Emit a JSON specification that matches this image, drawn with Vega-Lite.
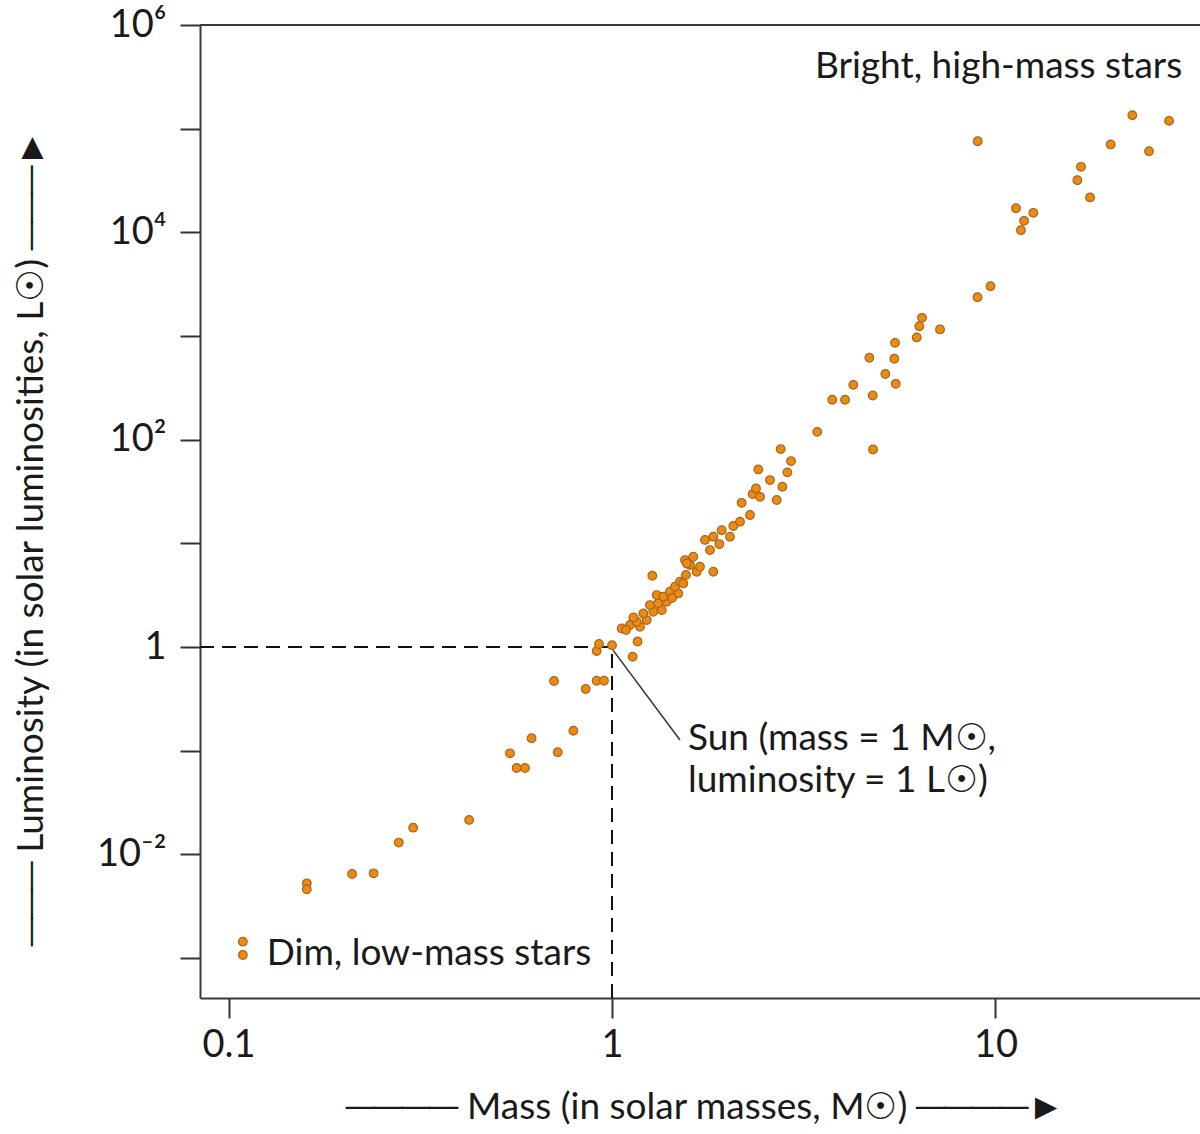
{
  "$schema": "https://vega.github.io/schema/vega-lite/v6.json",
  "width": 1000,
  "height": 973,
  "autosize": "none",
  "padding": {"left": 200, "top": 25, "right": 0, "bottom": 136},
  "background": "white",
  "config": {"view": {"stroke": null}, "font": "Lato"},
  "datasets": {
    "stars": [
      {"mass": 0.109, "lum": 0.00144}, {"mass": 0.109, "lum": 0.00107},
      {"mass": 0.160, "lum": 0.00526}, {"mass": 0.160, "lum": 0.00461},
      {"mass": 0.210, "lum": 0.00647}, {"mass": 0.239, "lum": 0.00657},
      {"mass": 0.278, "lum": 0.0130}, {"mass": 0.303, "lum": 0.0181},
      {"mass": 0.424, "lum": 0.0215}, {"mass": 0.542, "lum": 0.0944},
      {"mass": 0.564, "lum": 0.0681}, {"mass": 0.593, "lum": 0.0681},
      {"mass": 0.617, "lum": 0.132}, {"mass": 0.722, "lum": 0.0966},
      {"mass": 0.793, "lum": 0.156}, {"mass": 0.706, "lum": 0.470},
      {"mass": 0.854, "lum": 0.394}, {"mass": 0.912, "lum": 0.473},
      {"mass": 0.953, "lum": 0.473}, {"mass": 0.912, "lum": 0.915},
      {"mass": 0.925, "lum": 1.07}, {"mass": 1.0, "lum": 1.04},
      {"mass": 1.132, "lum": 0.806}, {"mass": 1.166, "lum": 1.13},
      {"mass": 1.060, "lum": 1.51}, {"mass": 1.114, "lum": 1.63},
      {"mass": 1.183, "lum": 1.57}, {"mass": 1.160, "lum": 1.75},
      {"mass": 1.232, "lum": 1.82}, {"mass": 1.137, "lum": 1.93},
      {"mass": 1.207, "lum": 2.11}, {"mass": 1.281, "lum": 2.19},
      {"mass": 1.348, "lum": 2.27}, {"mass": 1.256, "lum": 2.54},
      {"mass": 1.320, "lum": 2.64}, {"mass": 1.389, "lum": 2.73},
      {"mass": 1.308, "lum": 3.17}, {"mass": 1.361, "lum": 3.06},
      {"mass": 1.489, "lum": 3.29}, {"mass": 1.416, "lum": 3.42},
      {"mass": 1.460, "lum": 3.82}, {"mass": 1.504, "lum": 4.26},
      {"mass": 1.274, "lum": 4.87}, {"mass": 1.534, "lum": 4.11},
      {"mass": 1.597, "lum": 6.18}, {"mass": 1.663, "lum": 5.33},
      {"mass": 1.550, "lum": 6.90}, {"mass": 1.629, "lum": 7.43},
      {"mass": 1.696, "lum": 5.95}, {"mass": 1.837, "lum": 5.33},
      {"mass": 1.801, "lum": 8.62}, {"mass": 1.748, "lum": 10.8},
      {"mass": 1.905, "lum": 9.84}, {"mass": 1.837, "lum": 11.6},
      {"mass": 2.031, "lum": 11.6}, {"mass": 1.932, "lum": 13.4},
      {"mass": 2.072, "lum": 14.7}, {"mass": 2.157, "lum": 16.2},
      {"mass": 2.290, "lum": 18.8}, {"mass": 2.178, "lum": 24.6},
      {"mass": 2.327, "lum": 29.9}, {"mass": 2.432, "lum": 28.1},
      {"mass": 2.374, "lum": 33.9}, {"mass": 2.689, "lum": 26.2},
      {"mass": 2.781, "lum": 35.2}, {"mass": 2.582, "lum": 40.8},
      {"mass": 2.407, "lum": 51.7}, {"mass": 2.866, "lum": 48.4},
      {"mass": 2.930, "lum": 62.2}, {"mass": 2.754, "lum": 81.2},
      {"mass": 3.430, "lum": 119}, {"mass": 3.753, "lum": 243},
      {"mass": 4.052, "lum": 243}, {"mass": 4.258, "lum": 338},
      {"mass": 4.785, "lum": 267}, {"mass": 4.794, "lum": 80.6},
      {"mass": 4.688, "lum": 617}, {"mass": 5.161, "lum": 430},
      {"mass": 5.447, "lum": 603}, {"mass": 5.494, "lum": 346},
      {"mass": 5.470, "lum": 859}, {"mass": 6.232, "lum": 970},
      {"mass": 6.330, "lum": 1245}, {"mass": 6.433, "lum": 1497},
      {"mass": 7.167, "lum": 1158}, {"mass": 8.977, "lum": 2371},
      {"mass": 9.705, "lum": 3028}, {"mass": 11.65, "lum": 10500},
      {"mass": 11.87, "lum": 12910}, {"mass": 11.31, "lum": 17110},
      {"mass": 12.55, "lum": 15420}, {"mass": 8.986, "lum": 75700},
      {"mass": 16.35, "lum": 31860}, {"mass": 16.71, "lum": 42850},
      {"mass": 17.64, "lum": 21720}, {"mass": 19.97, "lum": 70470},
      {"mass": 22.74, "lum": 134900}, {"mass": 25.14, "lum": 60670},
      {"mass": 28.35, "lum": 118900}, {"mass": 1.566, "lum": 6.41},
      {"mass": 1.088, "lum": 1.46}, {"mass": 1.434, "lum": 2.97},
      {"mass": 1.559, "lum": 4.95}
    ],
    "notes": [
      {"mass": 3.383, "lum": 306900, "text": "Bright, high-mass stars"},
      {"mass": 0.1258, "lum": 0.000858, "text": "Dim, low-mass stars"},
      {"mass": 1.578, "lum": 0.1016, "text": "Sun (mass = 1 M☉,"},
      {"mass": 1.578, "lum": 0.0400, "text": "luminosity = 1 L☉)"}
    ]
  },
  "layer": [
    {
      "data": {"values": [{"mass": 0.08427, "mass2": 1, "lum": 1}]},
      "mark": {"type": "rule", "color": "#111", "strokeWidth": 2, "strokeDash": [14, 8]},
      "encoding": {
        "x": {"field": "mass", "type": "quantitative", "scale": {"type": "log", "domain": [0.08427, 34.14], "nice": false}},
        "x2": {"field": "mass2"},
        "y": {"field": "lum", "type": "quantitative", "scale": {"type": "log", "domain": [0.000412, 1000000], "nice": false}}
      }
    },
    {
      "data": {"values": [{"mass": 1, "lum": 0.000412, "lum2": 1}]},
      "mark": {"type": "rule", "color": "#111", "strokeWidth": 2, "strokeDash": [14, 8]},
      "encoding": {
        "x": {"field": "mass", "type": "quantitative"},
        "y": {"field": "lum", "type": "quantitative"},
        "y2": {"field": "lum2"}
      }
    },
    {
      "data": {"values": [{"top": 1000000}]},
      "mark": {"type": "rule", "color": "#3a3a3a", "strokeWidth": 2},
      "encoding": {"y": {"field": "top", "type": "quantitative"}}
    },
    {
      "data": {"values": [{"mass": 1.006, "lum": 0.935, "mass2": 1.504, "lum2": 0.1268}]},
      "mark": {"type": "rule", "color": "#333", "strokeWidth": 1.5},
      "encoding": {
        "x": {"field": "mass", "type": "quantitative"},
        "y": {"field": "lum", "type": "quantitative"},
        "x2": {"field": "mass2"},
        "y2": {"field": "lum2"}
      }
    },
    {
      "data": {"name": "stars"},
      "mark": {"type": "circle", "size": 75, "fill": "#EC8A12", "stroke": "#A9661C", "strokeWidth": 1.2, "opacity": 1},
      "encoding": {
        "x": {
          "field": "mass", "type": "quantitative",
          "scale": {"type": "log", "domain": [0.08427, 34.14], "nice": false},
          "axis": {
            "title": "────  Mass (in solar masses, M☉)  ────►",
            "values": [0.1, 1, 10], "format": "~g", "grid": false,
            "domainColor": "#3a3a3a", "domainWidth": 2,
            "tickColor": "#333", "tickWidth": 2, "tickSize": 20,
            "labelFontSize": 38, "labelColor": "#1a1a1a", "labelPadding": 8, "labelFlush": false, "labelOverlap": false,
            "titleFontSize": 37, "titleFontWeight": "normal", "titleColor": "#1a1a1a",
            "titleX": 505, "titleY": 120, "titleBaseline": "alphabetic"
          }
        },
        "y": {
          "field": "lum", "type": "quantitative",
          "scale": {"type": "log", "domain": [0.000412, 1000000], "nice": false},
          "axis": {
            "title": "───  Luminosity (in solar luminosities, L☉)  ───►",
            "values": [0.001, 0.01, 0.1, 1, 10, 100, 1000, 10000, 100000, 1000000],
            "labelExpr": "datum.value > 500000 ? '10⁶' : (datum.value > 5000 && datum.value < 50000) ? '10⁴' : (datum.value > 50 && datum.value < 500) ? '10²' : (datum.value > 0.5 && datum.value < 5) ? '1' : (datum.value > 0.005 && datum.value < 0.05) ? '10⁻²' : ''",
            "grid": false,
            "domainColor": "#3a3a3a", "domainWidth": 2,
            "tickColor": "#333", "tickWidth": 2, "tickSize": 20,
            "labelFontSize": 38, "labelColor": "#1a1a1a", "labelPadding": 14, "labelFlush": false, "labelOverlap": false,
            "titleFontSize": 37, "titleFontWeight": "normal", "titleColor": "#1a1a1a",
            "titleX": -158, "titleY": 512, "titleAngle": 270, "titleBaseline": "alphabetic"
          }
        }
      }
    },
    {
      "data": {"name": "notes"},
      "mark": {"type": "text", "align": "left", "baseline": "alphabetic", "fontSize": 37, "color": "#1a1a1a"},
      "encoding": {
        "x": {"field": "mass", "type": "quantitative"},
        "y": {"field": "lum", "type": "quantitative"},
        "text": {"field": "text"}
      }
    }
  ]
}
